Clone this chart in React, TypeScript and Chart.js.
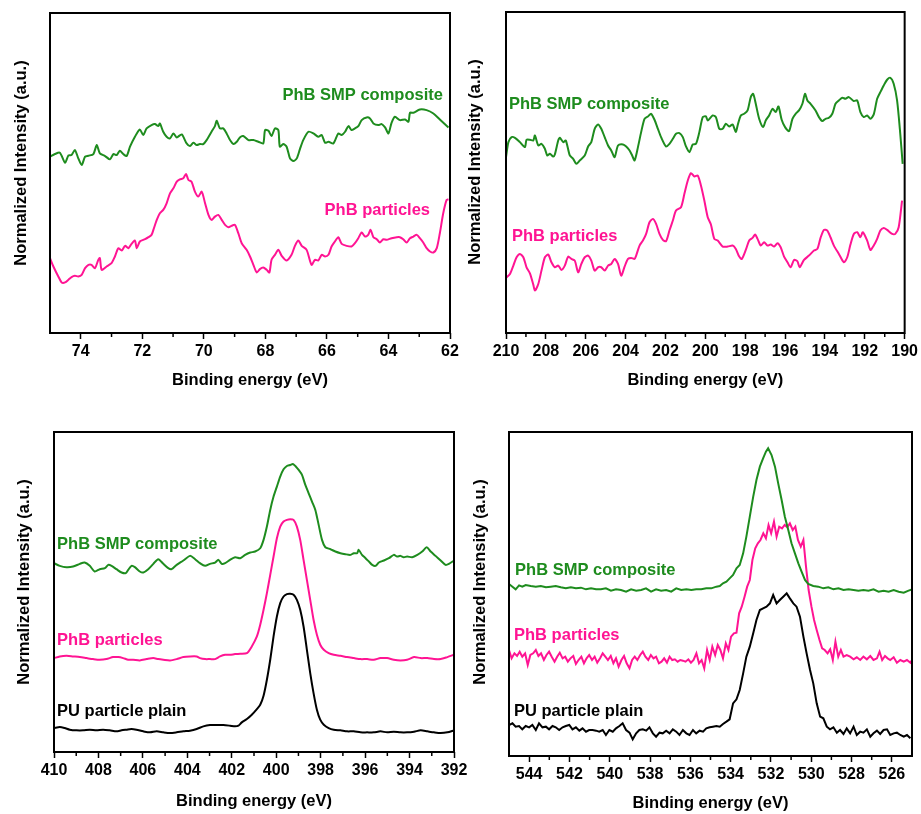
import React, { useEffect, useRef } from 'react';
import { Chart, registerables } from 'chart.js';

Chart.register(...registerables);

const GREEN = '#1e8c1e';
const PINK = '#ff1493';
const BLACK = '#000000';
const FONT = '"Liberation Sans", Arial, Helvetica, sans-serif';

type Pt = [number, number];

// ---------- Panel A (62–75 eV) ----------
const panelATicks = [74, 72, 70, 68, 66, 64, 62];
const panelAComposite: Pt[] = [
  [75.00,530],[74.84,538],[74.68,542],[74.51,512],[74.40,534],[74.30,535],[74.19,550],[74.08,525],[73.97,505],[73.86,530],
  [73.75,533],[73.59,538],[73.48,565],[73.38,540],[73.21,532],[73.05,522],[72.94,538],[72.83,535],[72.73,548],[72.62,538],
  [72.51,532],[72.40,560],[72.24,590],[72.08,612],[71.97,595],[71.86,615],[71.70,625],[71.59,628],[71.48,622],[71.43,630],
  [71.32,605],[71.21,590],[71.10,585],[70.99,600],[70.88,588],[70.72,597],[70.56,570],[70.45,562],[70.34,572],[70.23,565],
  [70.13,568],[70.02,568],[69.91,580],[69.75,605],[69.64,622],[69.58,638],[69.48,615],[69.37,615],[69.26,600],[69.15,580],
  [69.04,568],[68.93,575],[68.83,588],[68.72,592],[68.55,580],[68.39,580],[68.23,575],[68.07,570],[68.01,610],[67.90,608],
  [67.80,592],[67.69,615],[67.58,610],[67.53,560],[67.42,568],[67.31,560],[67.20,525],[67.09,517],[66.98,525],[66.88,552],
  [66.77,580],[66.60,605],[66.44,600],[66.28,590],[66.17,595],[66.06,572],[65.95,575],[65.79,570],[65.63,600],[65.52,595],
  [65.41,605],[65.30,622],[65.20,610],[65.09,615],[64.98,622],[64.87,640],[64.71,648],[64.60,645],[64.49,630],[64.33,625],
  [64.22,628],[64.11,618],[64.00,600],[63.90,632],[63.79,650],[63.63,640],[63.46,642],[63.35,635],[63.30,662],[63.19,662],
  [62.98,672],[62.76,670],[62.54,660],[62.33,642],[62.05,618]
];
const panelAParticles: Pt[] = [
  [75.00,225],[74.89,200],[74.73,170],[74.62,152],[74.51,152],[74.40,160],[74.30,168],[74.19,172],[74.08,170],[73.97,175],
  [73.86,195],[73.75,205],[73.65,205],[73.54,195],[73.43,220],[73.38,225],[73.32,190],[73.16,200],[73.00,210],[72.89,230],
  [72.78,255],[72.67,248],[72.56,262],[72.45,255],[72.35,268],[72.24,278],[72.18,255],[72.08,275],[71.91,282],[71.80,288],
  [71.70,295],[71.64,310],[71.53,340],[71.43,360],[71.32,370],[71.21,390],[71.10,420],[70.99,435],[70.88,455],[70.78,462],
  [70.67,465],[70.58,478],[70.50,460],[70.40,455],[70.29,425],[70.18,410],[70.07,425],[69.96,390],[69.85,355],[69.75,340],
  [69.64,350],[69.53,355],[69.42,340],[69.31,325],[69.20,318],[69.10,322],[68.99,325],[68.88,300],[68.77,270],[68.61,250],
  [68.50,230],[68.39,205],[68.28,182],[68.18,192],[68.07,197],[67.96,190],[67.87,182],[67.80,220],[67.69,235],[67.58,250],
  [67.47,232],[67.31,218],[67.15,235],[67.04,262],[66.93,278],[66.82,262],[66.66,250],[66.50,205],[66.39,220],[66.28,218],
  [66.17,235],[66.06,230],[65.95,235],[65.85,260],[65.74,275],[65.63,288],[65.52,268],[65.36,262],[65.20,260],[65.09,270],
  [64.98,285],[64.87,302],[64.76,290],[64.66,295],[64.58,310],[64.49,288],[64.38,282],[64.28,272],[64.17,282],[64.06,280],
  [63.90,285],[63.73,288],[63.63,288],[63.52,282],[63.41,272],[63.30,285],[63.19,290],[63.08,295],[62.98,285],[62.87,272],
  [62.76,255],[62.65,245],[62.54,242],[62.43,255],[62.33,300],[62.22,360],[62.11,400],[62.05,402]
];

// ---------- Panel B (190–210 eV) ----------
const panelBTicks = [210, 208, 206, 204, 202, 200, 198, 196, 194, 192, 190];
const panelBComposite: Pt[] = [
  [210.00,527],[209.88,572],[209.72,587],[209.55,585],[209.30,572],[209.05,557],[208.97,579],[208.80,579],[208.63,577],[208.55,592],
  [208.38,562],[208.22,567],[208.05,552],[207.93,532],[207.80,537],[207.63,529],[207.55,535],[207.38,577],[207.30,585],[207.13,572],
  [207.00,577],[206.80,532],[206.63,522],[206.47,507],[206.30,517],[206.05,532],[205.88,559],[205.72,572],[205.55,612],[205.38,625],
  [205.22,612],[205.05,587],[204.88,562],[204.72,547],[204.55,527],[204.38,562],[204.13,565],[203.97,559],[203.80,547],[203.67,532],
  [203.55,517],[203.38,557],[203.22,602],[203.05,642],[202.88,649],[202.72,657],[202.55,639],[202.38,612],[202.22,587],[201.97,559],
  [201.80,567],[201.63,582],[201.47,597],[201.30,599],[201.13,587],[200.97,559],[200.80,542],[200.63,565],[200.47,567],[200.30,602],
  [200.13,647],[199.97,649],[199.88,637],[199.63,652],[199.47,647],[199.30,612],[199.13,612],[198.97,627],[198.80,619],[198.63,625],
  [198.47,602],[198.38,622],[198.22,652],[198.05,657],[197.88,667],[197.72,707],[197.60,717],[197.47,687],[197.30,642],[197.10,617],
  [196.97,637],[196.80,652],[196.63,672],[196.47,662],[196.33,679],[196.17,639],[196.00,617],[195.80,605],[195.63,642],[195.47,657],
  [195.30,667],[195.13,687],[195.00,717],[194.88,697],[194.72,687],[194.47,667],[194.30,647],[194.13,635],[193.97,642],[193.80,645],
  [193.63,657],[193.47,687],[193.30,697],[193.13,705],[192.97,702],[192.80,707],[192.55,695],[192.38,697],[192.22,662],[192.05,647],
  [191.88,652],[191.72,642],[191.55,655],[191.38,702],[191.22,722],[191.05,742],[190.88,759],[190.72,765],[190.55,747],[190.38,697],
  [190.22,597],[190.10,507]
];
const panelBParticles: Pt[] = [
  [210.00,165],[209.80,177],[209.63,202],[209.47,227],[209.30,237],[209.13,227],[208.97,197],[208.80,179],[208.63,145],[208.55,127],
  [208.38,147],[208.22,187],[208.05,227],[207.88,235],[207.72,212],[207.55,197],[207.38,202],[207.22,189],[207.05,202],[206.88,229],
  [206.72,222],[206.55,217],[206.38,182],[206.22,207],[206.05,227],[205.88,232],[205.72,217],[205.55,187],[205.38,197],[205.22,197],
  [205.05,187],[204.88,202],[204.72,207],[204.55,222],[204.38,207],[204.22,172],[204.05,199],[203.88,222],[203.72,225],[203.55,222],
  [203.47,232],[203.30,262],[203.13,277],[202.97,297],[202.80,332],[202.63,342],[202.47,327],[202.30,297],[202.13,279],[201.97,275],
  [201.80,307],[201.63,337],[201.47,367],[201.22,377],[201.05,417],[200.88,457],[200.72,479],[200.55,469],[200.38,472],[200.22,442],
  [200.05,397],[199.88,347],[199.72,325],[199.55,282],[199.38,277],[199.13,259],[198.88,259],[198.63,262],[198.47,252],[198.30,229],
  [198.17,222],[197.97,249],[197.80,277],[197.63,285],[197.50,295],[197.38,282],[197.22,262],[197.05,272],[196.88,262],[196.72,265],
  [196.55,259],[196.38,269],[196.22,257],[196.05,229],[195.88,212],[195.72,197],[195.55,219],[195.38,215],[195.27,197],[195.05,219],
  [194.80,232],[194.55,247],[194.38,252],[194.22,285],[194.05,309],[193.88,307],[193.72,287],[193.55,262],[193.30,237],[193.05,212],
  [192.88,227],[192.72,265],[192.55,297],[192.38,302],[192.22,287],[192.10,302],[191.88,277],[191.72,249],[191.55,262],[191.38,282],
  [191.22,307],[191.05,315],[190.88,309],[190.63,297],[190.47,297],[190.30,317],[190.13,397]
];

// ---------- Panel C (392–410 eV) ----------
const panelCTicks = [410, 408, 406, 404, 402, 400, 398, 396, 394, 392];
const panelCComposite: Pt[] = [
  [410.00,567],[409.74,559],[409.44,555],[409.14,557],[408.84,565],[408.62,569],[408.39,559],[408.17,542],[407.94,549],[407.71,552],
  [407.56,562],[407.41,559],[407.19,549],[406.96,539],[406.77,537],[406.66,547],[406.51,559],[406.36,555],[406.14,542],[405.98,539],
  [405.76,549],[405.53,565],[405.31,579],[405.08,565],[404.86,552],[404.71,549],[404.48,562],[404.18,575],[403.88,589],[403.65,579],
  [403.43,567],[403.20,559],[402.98,565],[402.75,569],[402.60,577],[402.45,565],[402.30,567],[402.08,577],[401.85,585],[401.62,582],
  [401.40,592],[401.17,599],[400.95,602],[400.72,612],[400.57,637],[400.42,677],[400.27,727],[400.12,767],[399.97,797],[399.82,827],
  [399.67,849],[399.52,859],[399.37,862],[399.25,865],[399.14,859],[398.99,847],[398.84,832],[398.69,802],[398.54,777],[398.39,752],
  [398.24,727],[398.09,682],[397.94,637],[397.79,615],[397.56,609],[397.34,602],[397.11,597],[396.89,594],[396.66,592],[396.51,597],
  [396.36,597],[396.29,607],[396.14,592],[395.98,582],[395.83,572],[395.68,562],[395.53,559],[395.38,569],[395.16,575],[394.93,582],
  [394.71,592],[394.56,587],[394.41,589],[394.26,585],[394.11,587],[393.88,585],[393.65,592],[393.43,602],[393.23,615],[393.05,602],
  [392.83,589],[392.60,575],[392.38,562],[392.23,565],[392.00,575]
];
const panelCParticles: Pt[] = [
  [410.00,282],[409.74,287],[409.44,289],[409.14,287],[408.84,285],[408.54,282],[408.24,279],[407.94,277],[407.64,279],[407.34,285],
  [407.11,285],[406.89,282],[406.66,277],[406.44,277],[406.14,275],[405.83,279],[405.53,282],[405.31,279],[405.08,277],[404.78,275],
  [404.48,279],[404.18,285],[403.88,287],[403.58,287],[403.43,282],[403.20,279],[402.98,279],[402.75,279],[402.53,287],[402.30,292],
  [402.08,292],[401.85,294],[401.62,295],[401.32,297],[401.10,317],[400.87,347],[400.72,382],[400.57,427],[400.42,477],[400.27,532],
  [400.12,587],[399.97,642],[399.82,677],[399.67,692],[399.52,697],[399.37,699],[399.22,697],[399.07,677],[398.92,637],[398.77,577],
  [398.62,517],[398.47,457],[398.32,397],[398.17,352],[398.02,322],[397.86,307],[397.64,297],[397.41,292],[397.11,289],[396.81,285],
  [396.51,282],[396.21,279],[395.91,279],[395.61,277],[395.31,282],[395.01,282],[394.71,277],[394.41,275],[394.11,277],[393.80,285],
  [393.50,282],[393.20,282],[392.90,279],[392.60,279],[392.30,285],[392.00,292]
];
const panelCPlain: Pt[] = [
  [410.00,72],[409.74,75],[409.52,72],[409.29,67],[408.99,65],[408.69,65],[408.39,67],[408.09,65],[407.79,67],[407.49,65],
  [407.19,62],[406.96,65],[406.74,67],[406.51,69],[406.29,67],[405.98,62],[405.68,59],[405.38,62],[405.08,59],[404.78,57],
  [404.48,59],[404.18,62],[403.88,64],[403.58,69],[403.28,77],[402.98,81],[402.68,81],[402.38,81],[402.08,79],[401.85,77],
  [401.70,79],[401.55,89],[401.32,99],[401.10,112],[400.87,129],[400.72,142],[400.57,169],[400.42,217],[400.27,277],[400.12,347],
  [399.97,407],[399.82,447],[399.67,467],[399.52,474],[399.37,475],[399.22,472],[399.07,457],[398.92,427],[398.77,377],[398.62,307],
  [398.47,237],[398.32,177],[398.17,127],[398.02,97],[397.86,82],[397.64,72],[397.41,67],[397.11,65],[396.81,62],[396.51,62],
  [396.21,59],[395.91,59],[395.61,59],[395.31,62],[395.01,59],[394.71,61],[394.41,59],[394.11,59],[393.80,61],[393.50,65],
  [393.20,62],[392.90,59],[392.60,57],[392.30,59],[392.00,65]
];

// ---------- Panel D (525–545 eV) ----------
const panelDTicks = [544, 542, 540, 538, 536, 534, 532, 530, 528, 526];
const panelDComposite: Pt[] = [
  [545.00,516],[544.83,508],[544.67,500],[544.50,512],[544.34,508],[544.17,513],[543.92,510],[543.67,508],[543.42,510],[543.17,506],
  [542.93,508],[542.68,510],[542.43,506],[542.18,503],[541.93,506],[541.68,503],[541.43,505],[541.18,500],[540.93,503],[540.68,500],
  [540.44,500],[540.19,503],[539.94,496],[539.69,500],[539.44,498],[539.19,493],[538.94,500],[538.69,496],[538.44,498],[538.20,503],
  [537.95,493],[537.70,500],[537.45,496],[537.20,498],[536.95,493],[536.70,503],[536.45,498],[536.20,500],[535.95,498],[535.71,500],
  [535.46,500],[535.21,503],[534.96,503],[534.71,508],[534.54,510],[534.38,518],[534.21,523],[534.05,533],[533.88,543],[533.71,563],
  [533.55,573],[533.38,608],[533.22,658],[533.05,718],[532.88,778],[532.72,828],[532.55,868],[532.39,893],[532.25,913],[532.14,923],
  [531.97,903],[531.80,868],[531.64,818],[531.47,768],[531.31,718],[531.14,678],[530.98,638],[530.81,608],[530.64,578],[530.48,553],
  [530.31,528],[530.15,516],[529.90,510],[529.65,508],[529.40,503],[529.15,506],[528.90,500],[528.65,503],[528.40,498],[528.15,500],
  [527.90,498],[527.66,496],[527.41,498],[527.16,496],[526.91,500],[526.66,493],[526.41,496],[526.16,493],[525.91,498],[525.66,493],
  [525.41,490],[525.17,496],[525.00,500]
];
const panelDParticles: Pt[] = [
  [545.00,318],[544.87,293],[544.73,308],[544.60,300],[544.47,313],[544.34,298],[544.20,308],[544.07,273],[543.94,303],[543.80,308],
  [543.67,318],[543.54,300],[543.41,308],[543.27,288],[543.14,303],[543.01,313],[542.88,298],[542.74,283],[542.61,298],[542.48,310],
  [542.34,293],[542.21,298],[542.08,283],[541.95,293],[541.81,300],[541.68,276],[541.55,288],[541.41,298],[541.28,278],[541.15,293],
  [541.02,303],[540.88,288],[540.75,298],[540.62,280],[540.48,293],[540.35,308],[540.22,298],[540.09,288],[539.95,300],[539.82,278],
  [539.69,293],[539.56,268],[539.42,288],[539.29,300],[539.16,278],[539.02,263],[538.89,288],[538.76,298],[538.63,288],[538.49,303],
  [538.36,313],[538.23,298],[538.09,288],[537.96,303],[537.83,293],[537.70,298],[537.56,278],[537.43,283],[537.30,293],[537.16,280],
  [537.03,298],[536.90,288],[536.77,290],[536.63,283],[536.50,288],[536.37,286],[536.24,283],[536.10,290],[535.97,280],[535.84,288],
  [535.70,308],[535.57,278],[535.44,288],[535.31,263],[535.17,318],[535.04,288],[534.91,328],[534.77,303],[534.64,333],[534.51,318],
  [534.38,293],[534.24,338],[534.11,318],[533.98,358],[533.84,368],[533.71,370],[533.58,428],[533.45,448],[533.31,478],[533.18,508],
  [533.05,528],[532.92,588],[532.78,623],[532.65,638],[532.52,648],[532.38,668],[532.25,653],[532.12,693],[531.99,668],[531.85,703],
  [531.72,658],[531.59,688],[531.45,683],[531.32,693],[531.19,686],[531.06,698],[530.92,678],[530.79,688],[530.66,648],[530.52,628],
  [530.39,648],[530.26,568],[530.13,498],[529.99,448],[529.86,408],[529.73,378],[529.59,348],[529.46,323],[529.33,318],[529.19,308],
  [529.06,320],[528.93,288],[528.80,343],[528.66,298],[528.53,318],[528.40,298],[528.24,303],[528.07,298],[527.90,290],[527.74,296],
  [527.57,288],[527.41,298],[527.24,290],[527.07,300],[526.91,288],[526.74,293],[526.61,313],[526.48,288],[526.34,300],[526.21,293],
  [526.08,288],[525.91,296],[525.75,280],[525.58,288],[525.41,283],[525.25,288],[525.08,280],[525.00,288]
];
const panelDPlain: Pt[] = [
  [545.00,93],[544.83,98],[544.67,88],[544.50,90],[544.34,80],[544.17,90],[544.00,86],[543.84,93],[543.67,78],[543.51,98],
  [543.34,86],[543.17,88],[543.01,80],[542.84,90],[542.68,86],[542.51,78],[542.34,86],[542.18,90],[542.01,93],[541.85,80],
  [541.68,86],[541.51,76],[541.35,83],[541.18,73],[541.02,78],[540.85,78],[540.68,76],[540.52,73],[540.35,78],[540.19,63],
  [540.02,78],[539.85,73],[539.69,83],[539.52,90],[539.36,98],[539.19,78],[539.02,70],[538.86,50],[538.69,68],[538.53,78],
  [538.36,80],[538.19,76],[538.03,86],[537.86,68],[537.70,58],[537.53,70],[537.37,68],[537.20,76],[537.03,68],[536.87,80],
  [536.70,73],[536.54,63],[536.37,78],[536.20,68],[536.04,63],[535.87,78],[535.71,68],[535.54,76],[535.37,73],[535.21,83],
  [535.04,86],[534.88,88],[534.71,90],[534.54,88],[534.38,96],[534.21,103],[534.05,110],[533.88,158],[533.71,170],[533.55,198],
  [533.38,248],[533.22,298],[533.05,328],[532.88,368],[532.72,408],[532.55,438],[532.39,443],[532.22,448],[532.05,458],[531.89,483],
  [531.72,458],[531.56,468],[531.39,478],[531.22,488],[531.06,473],[530.89,458],[530.73,448],[530.56,418],[530.39,358],[530.23,308],
  [530.06,258],[529.90,218],[529.73,158],[529.56,118],[529.40,113],[529.23,88],[529.07,80],[528.90,86],[528.73,70],[528.57,78],
  [528.40,66],[528.24,83],[528.07,68],[527.90,88],[527.74,63],[527.57,73],[527.41,70],[527.24,80],[527.07,58],[526.91,68],
  [526.74,76],[526.58,66],[526.41,78],[526.24,80],[526.08,63],[525.91,68],[525.75,70],[525.58,63],[525.41,58],[525.25,63],
  [525.08,53]
];

// ---------- layout of the four panels ----------
interface SeriesDef { data: Pt[]; color: string; }
interface LabelDef { text: string; color: string; x: number; y: number; align: CanvasTextAlign; }
interface PanelDef {
  box: { left: number; top: number; width: number; height: number };
  plot: { left: number; top: number; right: number; bottom: number };
  xMin: number; xMax: number; yMax: number;
  ticks: number[];
  tension: number;
  series: SeriesDef[];
  labels: LabelDef[];
  xTitleY: number;
  yTitle: { x: number; y: number };
}

const panels: PanelDef[] = [
  {
    box: { left: 0, top: 0, width: 478, height: 400 },
    plot: { left: 50, top: 13, right: 450, bottom: 333 },
    xMin: 62, xMax: 75, yMax: 962, ticks: panelATicks, tension: 0.25,
    series: [
      { data: panelAComposite, color: GREEN },
      { data: panelAParticles, color: PINK },
    ],
    labels: [
      { text: 'PhB SMP composite', color: GREEN, x: 62.23, y: 715, align: 'right' },
      { text: 'PhB particles', color: PINK, x: 62.65, y: 367, align: 'right' },
    ],
    xTitleY: 380, yTitle: { x: 21, y: 163 },
  },
  {
    box: { left: 460, top: 0, width: 461, height: 400 },
    plot: { left: 506, top: 12, right: 906, bottom: 333 },
    xMin: 190, xMax: 210, yMax: 962, ticks: panelBTicks, tension: 0.25,
    series: [
      { data: panelBComposite, color: GREEN },
      { data: panelBParticles, color: PINK },
    ],
    labels: [
      { text: 'PhB SMP composite', color: GREEN, x: 209.85, y: 686, align: 'left' },
      { text: 'PhB particles', color: PINK, x: 209.7, y: 288, align: 'left' },
    ],
    xTitleY: 380, yTitle: { x: 475, y: 162 },
  },
  {
    box: { left: 0, top: 415, width: 478, height: 399 },
    plot: { left: 54, top: 432, right: 454, bottom: 752 },
    xMin: 392, xMax: 410, yMax: 961, ticks: panelCTicks, tension: 0.25,
    series: [
      { data: panelCComposite, color: GREEN },
      { data: panelCParticles, color: PINK },
      { data: panelCPlain, color: BLACK },
    ],
    labels: [
      { text: 'PhB SMP composite', color: GREEN, x: 409.86, y: 622, align: 'left' },
      { text: 'PhB particles', color: PINK, x: 409.86, y: 336, align: 'left' },
      { text: 'PU particle plain', color: BLACK, x: 409.86, y: 121, align: 'left' },
    ],
    xTitleY: 801, yTitle: { x: 24, y: 582 },
  },
  {
    box: { left: 460, top: 415, width: 461, height: 399 },
    plot: { left: 509, top: 432, right: 912, bottom: 756 },
    xMin: 525, xMax: 545, yMax: 972, ticks: panelDTicks, tension: 0,
    series: [
      { data: panelDComposite, color: GREEN },
      { data: panelDParticles, color: PINK },
      { data: panelDPlain, color: BLACK },
    ],
    labels: [
      { text: 'PhB SMP composite', color: GREEN, x: 544.7, y: 556, align: 'left' },
      { text: 'PhB particles', color: PINK, x: 544.75, y: 363, align: 'left' },
      { text: 'PU particle plain', color: BLACK, x: 544.75, y: 133, align: 'left' },
    ],
    xTitleY: 803, yTitle: { x: 480, y: 582 },
  },
];

const TITLE_SIZE = 16.5;
const TICK_SIZE = 16;

function makeConfig(p: PanelDef): any {
  const { box, plot } = p;
  const xAxisHeight = box.top + box.height - plot.bottom;
  const titleLH = TITLE_SIZE * 1.2;
  const titlePadBottom = box.top + box.height - p.xTitleY - titleLH / 2;
  const minor: number[] = [];
  const all = [p.ticks[0] + 1, ...p.ticks.map((v) => v - 1)];
  all.forEach((v) => {
    if (v > p.xMin && v < p.xMax && !p.ticks.includes(v) && !minor.includes(v)) minor.push(v);
  });

  const decor = {
    id: 'panelDecor',
    afterDatasetsDraw(chart: any) {
      const { ctx, chartArea: a, scales } = chart;
      const xs = scales.x;
      const ys = scales.y;
      ctx.save();
      ctx.strokeStyle = '#000';
      ctx.lineWidth = 2;
      ctx.strokeRect(a.left, a.top, a.right - a.left, a.bottom - a.top);
      ctx.lineWidth = 1.5;
      minor.forEach((v) => {
        const px = xs.getPixelForValue(v);
        ctx.beginPath();
        ctx.moveTo(px, a.bottom);
        ctx.lineTo(px, a.bottom + 4);
        ctx.stroke();
      });
      ctx.font = `bold ${TITLE_SIZE}px ${FONT}`;
      ctx.textBaseline = 'middle';
      p.labels.forEach((l) => {
        ctx.fillStyle = l.color;
        ctx.textAlign = l.align;
        ctx.fillText(l.text, xs.getPixelForValue(l.x), ys.getPixelForValue(l.y));
      });
      ctx.translate(p.yTitle.x - box.left, p.yTitle.y - box.top);
      ctx.rotate(-Math.PI / 2);
      ctx.textAlign = 'center';
      ctx.fillStyle = '#000';
      ctx.fillText('Normalized Intensity (a.u.)', 0, 0);
      ctx.restore();
    },
  };

  return {
    type: 'line',
    data: {
      datasets: p.series.map((s) => ({
        data: s.data.map(([x, y]) => ({ x, y })),
        borderColor: s.color,
        backgroundColor: s.color,
        borderWidth: 2,
        pointRadius: 0,
        fill: false,
        tension: p.tension,
      })),
    },
    options: {
      responsive: false,
      animation: false,
      events: [],
      layout: {
        padding: {
          left: plot.left - box.left,
          top: plot.top - box.top,
          right: box.left + box.width - plot.right,
          bottom: 0,
        },
      },
      plugins: {
        legend: { display: false },
        tooltip: { enabled: false },
        title: { display: false },
      },
      scales: {
        x: {
          type: 'linear',
          reverse: true,
          min: p.xMin,
          max: p.xMax,
          afterBuildTicks: (scale: any) => {
            scale.ticks = p.ticks.map((v) => ({ value: v }));
          },
          afterFit: (scale: any) => {
            scale.height = xAxisHeight;
          },
          ticks: {
            autoSkip: false,
            maxRotation: 0,
            padding: 3,
            color: '#000',
            font: { family: FONT, size: TICK_SIZE, weight: 'bold' },
            callback: (v: any) => String(v),
          },
          grid: {
            display: true,
            drawOnChartArea: false,
            drawTicks: true,
            tickLength: 6,
            tickColor: '#000',
            tickWidth: 1.5,
          },
          border: { display: false },
          title: {
            display: true,
            text: 'Binding energy (eV)',
            color: '#000',
            font: { family: FONT, size: TITLE_SIZE, weight: 'bold', lineHeight: 1.2 },
            padding: { top: 0, bottom: titlePadBottom },
          },
        },
        y: {
          type: 'linear',
          display: false,
          min: 0,
          max: p.yMax,
        },
      },
    },
    plugins: [decor],
  };
}

function PanelChart({ panel }: { panel: PanelDef }) {
  const ref = useRef<HTMLCanvasElement>(null);
  useEffect(() => {
    if (!ref.current) return;
    const chart = new Chart(ref.current, makeConfig(panel));
    return () => chart.destroy();
  }, [panel]);
  const b = panel.box;
  return (
    <canvas
      ref={ref}
      width={b.width}
      height={b.height}
      style={{ position: 'absolute', left: b.left, top: b.top, width: b.width, height: b.height }}
    />
  );
}

export default function App() {
  return (
    <div style={{ position: 'absolute', left: 0, top: 0, width: 921, height: 814, background: '#ffffff' }}>
      {panels.map((p, i) => (
        <PanelChart key={i} panel={p} />
      ))}
    </div>
  );
}
